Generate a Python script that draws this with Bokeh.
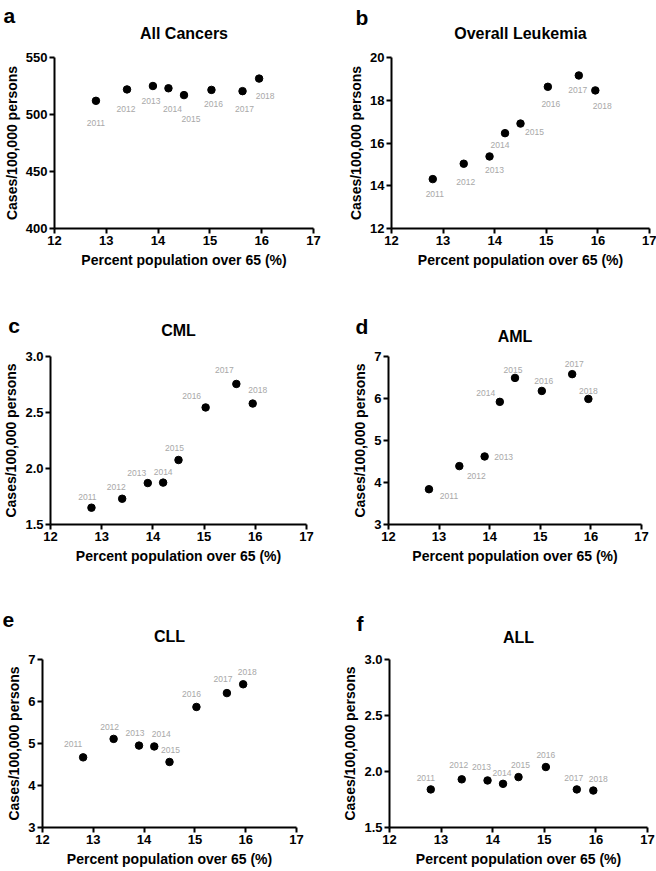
from bokeh.plotting import figure
from bokeh.models import Range1d, FixedTicker, NumeralTickFormatter, Label, ColumnDataSource
from bokeh.layouts import column, row
from bokeh.core.properties import value
from bokeh.embed import file_html
from bokeh.resources import INLINE

# ---------------- data ----------------
years = ["2011", "2012", "2013", "2014", "2015", "2016", "2017", "2018"]
pct_over_65 = [12.8, 13.4, 13.9, 14.2, 14.5, 15.03, 15.63, 15.95]
x_ticks = [12, 13, 14, 15, 16, 17]

all_cancers = [512, 522, 525, 523, 517, 521.6, 520.5, 531.5]
overall_leukemia = [14.31, 15.03, 15.37, 16.46, 16.91, 18.63, 19.16, 18.46]
cml = [1.65, 1.73, 1.87, 1.874, 2.076, 2.545, 2.755, 2.58]
aml = [3.84, 4.39, 4.62, 5.92, 6.49, 6.18, 6.58, 5.99]
cll = [4.67, 5.11, 4.95, 4.93, 4.56, 5.87, 6.20, 6.41]
all_leuk = [1.84, 1.93, 1.92, 1.89, 1.95, 2.04, 1.84, 1.83]

letters = ["a", "b", "c", "d", "e", "f"]
titles = ["All Cancers", "Overall Leukemia", "CML", "AML", "CLL", "ALL"]
series = [all_cancers, overall_leukemia, cml, aml, cll, all_leuk]
x_range = (12, 17)
y_ranges = [(400, 550), (12, 20), (1.5, 3.0), (3, 7), (3, 7), (1.5, 3.0)]
y_ticks = [[400, 450, 500, 550], [12, 14, 16, 18, 20], [1.5, 2.0, 2.5, 3.0],
           [3, 4, 5, 6, 7], [3, 4, 5, 6, 7], [1.5, 2.0, 2.5, 3.0]]
y_formats = [None, None, "0.0", None, None, "0.0"]

# ---------------- layout / style (screen px) ----------------
FONT = "Liberation Sans"
# width, height, left, right, top, bottom
geom = [
    (328, 280, 54, 15, 57, 51),
    (328, 280, 63, 7, 57, 52),
    (328, 295, 45, 22, 75, 46),
    (328, 295, 60, 15, 76, 51),
    (328, 296, 42, 32, 84, 43),
    (328, 296, 61, 9, 80, 44),
]
# letter left edge (px from frame left), letter / title baseline (px above frame top)
letter_dx = [-51, -36, -43, -33, -40, -33]
letter_above = [42, 40.3, 31.7, 30, 39.7, 36.7]
title_above = [23.7, 23.7, 27.3, 20, 23, 22.7]

# year-label offsets (dx, dy) in px, dy positive = down
label_offsets = [
    [(0, 22), (-1, 20), (-2, 15), (4, 21), (7, 24), (2, 14), (2, 18), (6, 17)],
    [(2, 15), (2, 18), (5, 14), (-5, 12), (14, 8), (3, 17), (-1, 15), (7, 16)],
    [(-4, -11), (-6, -12), (-11, -10), (0, -11), (-4, -12), (-14, -11), (-12, -14), (5, -14)],
    [(20, 7), (17, 10), (19, 1), (-14, -9), (-2, -8), (2, -10), (2, -10), (0, -8)],
    [(-10, -13), (-4, -12), (-4, -13), (7, -12), (1, -12), (-5, -13), (-4, -14), (4, -12)],
    [(-5, -11), (-3, -14), (-6, -13), (-1, -11), (2, -12), (0, -12), (-3, -11), (5, -12)],
]


def make_panel(i):
    w, h, left, right, top, bottom = geom[i]
    fw = w - left - right
    fh = h - top - bottom
    y0, y1 = y_ranges[i]
    x0, x1 = x_range
    ypp = (y1 - y0) / fh  # data per px
    xpp = (x1 - x0) / fw

    p = figure(width=w, height=h, min_border_left=left, min_border_right=right,
               min_border_top=top, min_border_bottom=bottom,
               x_range=Range1d(x0, x1), y_range=Range1d(y0, y1),
               output_backend="svg", toolbar_location=None, tools="",
               title_location=None)
    p.outline_line_color = None
    p.grid.visible = False
    p.background_fill_color = "white"
    p.border_fill_color = "white"

    for ax in (p.xaxis[0], p.yaxis[0]):
        ax.axis_line_width = 2
        ax.axis_line_color = "black"
        ax.major_tick_line_width = 2
        ax.major_tick_line_color = "black"
        ax.major_tick_out = 5
        ax.major_tick_in = 0
        ax.minor_tick_line_color = None
        ax.major_label_text_font = FONT
        ax.major_label_text_font_size = "13px"
        ax.major_label_text_font_style = "bold"
        ax.major_label_text_color = "black"
        ax.major_label_standoff = 2
        ax.axis_label_text_font = FONT
        ax.axis_label_text_font_size = "14px"
        ax.axis_label_text_font_style = "bold"
        ax.axis_label_text_color = "black"
    p.xaxis.axis_label = "Percent population over 65 (%)"
    p.yaxis.axis_label = "Cases/100,000 persons"
    p.xaxis.axis_label_standoff = 4
    p.yaxis.axis_label_standoff = 3
    p.xaxis.ticker = FixedTicker(ticks=x_ticks)
    p.yaxis.ticker = FixedTicker(ticks=y_ticks[i])
    if y_formats[i]:
        p.yaxis.formatter = NumeralTickFormatter(format=y_formats[i])

    src = ColumnDataSource(dict(
        x=pct_over_65, y=series[i], year=years,
        dx=[o[0] for o in label_offsets[i]],
        dy=[o[1] for o in label_offsets[i]],
    ))
    p.scatter("x", "y", source=src, size=7.5, color="black")
    p.text("x", "y", text="year", source=src, x_offset="dx", y_offset="dy",
           text_align="center", text_baseline="middle",
           text_font=value(FONT), text_font_size="8.5px", text_color="#a8a8a8")

    # panel title and panel letter (placed in a side panel so they are not clipped)
    p.add_layout(Label(x=(x0 + x1) / 2, y=y1 + title_above[i] * ypp,
                       text=titles[i], text_align="center", text_baseline="alphabetic",
                       text_font=FONT, text_font_size="16px", text_font_style="bold",
                       text_color="black"), "above")
    p.add_layout(Label(x=x0 + letter_dx[i] * xpp, y=y1 + letter_above[i] * ypp,
                       text=letters[i], text_align="left", text_baseline="alphabetic",
                       text_font=FONT, text_font_size="21px", text_font_style="bold",
                       text_color="black"), "above")
    return p


panels = [make_panel(i) for i in range(6)]
layout = column(row(panels[0], panels[1]), row(panels[2], panels[3]), row(panels[4], panels[5]))

open("out.html", "w").write(file_html(layout, INLINE))
